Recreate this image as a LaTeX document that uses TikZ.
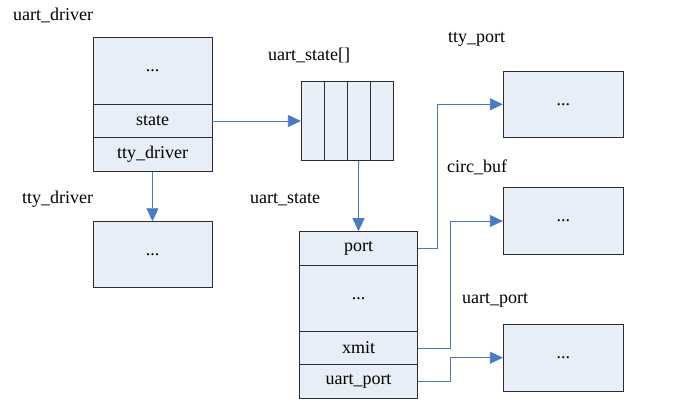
\documentclass[tikz,border=0pt]{standalone}
\usepackage{fontspec}
\setmainfont{Liberation Serif}
\usetikzlibrary{arrows.meta}
\definecolor{cellfill}{RGB}{232,238,247}
\definecolor{cellline}{RGB}{45,45,45}
\definecolor{conncol}{RGB}{74,122,196}
\begin{document}
\begin{tikzpicture}[x=1pt,y=-1pt,
  cell/.style={draw=cellline, fill=cellfill, line width=0.9pt, inner sep=0pt, font=\fontsize{18}{21}\selectfont},
  lbl/.style={anchor=base west, inner sep=0pt, font=\fontsize{18}{21}\selectfont},
  conn/.style={draw=conncol, line width=0.8pt, -{Triangle[length=13pt,width=12pt]}}
]
\fill[white] (0,0) rectangle (674,405);
\useasboundingbox (0,0) rectangle (674,405);

% labels
\node[lbl] (l1) at (13,20) {uart\_driver};
\node[lbl] (l2) at (22,203.3) {tty\_driver};
\node[lbl] (l3) at (268,60) {uart\_state[]};
\node[lbl] (l4) at (250,203.3) {uart\_state};
\node[lbl] (l5) at (448,42) {tty\_port};
\node[lbl] (l6) at (447,172.7) {circ\_buf};
\node[lbl] (l7) at (462,303.3) {uart\_port};

% uart_driver
\node[cell, minimum width=119pt, minimum height=66.5pt] (ud1) at (152.5,71) {...};
\node[cell, minimum width=119pt, minimum height=33.5pt] (ud2) at (152.5,121) {state};
\node[cell, minimum width=119pt, minimum height=33.5pt] (ud3) at (152.5,154.5) {tty\_driver};

% tty_driver
\node[cell, minimum width=119pt, minimum height=66pt] (td) at (152.5,254.7) {...};

% uart_state[] array
\node[cell, minimum width=23.1pt, minimum height=79.4pt] (a1) at (312.9,121) {};
\node[cell, minimum width=23.1pt, minimum height=79.4pt] (a2) at (336.0,121) {};
\node[cell, minimum width=23.1pt, minimum height=79.4pt] (a3) at (358.6,121) {};
\node[cell, minimum width=23.1pt, minimum height=79.4pt] (a4) at (382.2,121) {};

% uart_state
\node[cell, minimum width=118.4pt, minimum height=33.3pt] (us1) at (358.5,248.3) {port};
\node[cell, minimum width=118.4pt, minimum height=66.7pt] (us2) at (358.5,298.3) {...};
\node[cell, minimum width=118.4pt, minimum height=32.6pt] (us3) at (358.5,348) {xmit};
\node[cell, minimum width=118.4pt, minimum height=34pt] (us4) at (358.5,381.3) {uart\_port};

% right boxes
\node[cell, minimum width=120pt, minimum height=66.7pt] (tp) at (563.3,104.3) {...};
\node[cell, minimum width=120pt, minimum height=66.7pt] (cb) at (563.3,221) {...};
\node[cell, minimum width=120pt, minimum height=66.7pt] (up) at (563.3,357.7) {...};

% connectors
\draw[conn] (ud3.south) -- (td.north);
\draw[conn] (ud2.east) -- (a1.west);
\draw[conn] (a3.south) -- (us1.north);
\draw[conn] (us1.east) -- ++(19.5,0) |- (tp.west);
\draw[conn] (us3.east) -- ++(32,0) |- (cb.west);
\draw[conn] (us4.east) -- ++(32,0) |- (up.west);
\end{tikzpicture}
\end{document}
